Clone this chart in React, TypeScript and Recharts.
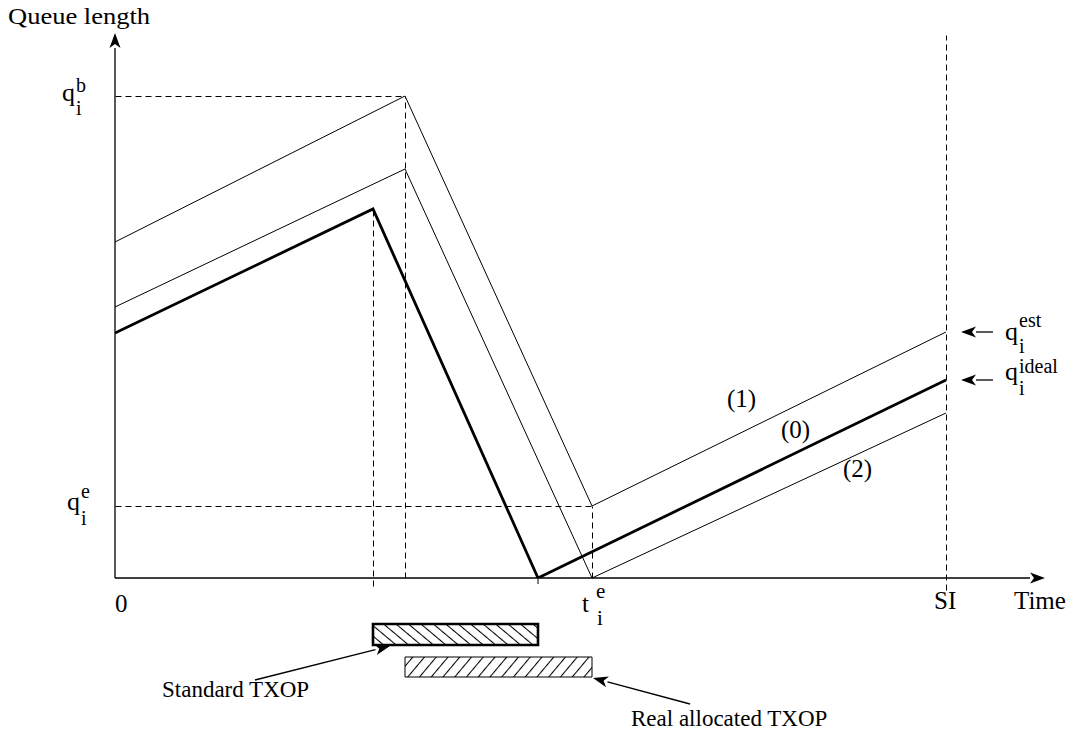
import { LineChart, Line, XAxis, YAxis, ReferenceLine, ReferenceArea } from "recharts";

// queue length curves, x = time, y = queue length (same units as the axes)
const idealTime = [0, 258, 423, 831];
const idealQueue = [245, 369, 0, 198];
const estTime = [0, 290, 477, 831];
const estQueue = [336, 482, 72, 246];
const lowTime = [0, 290, 477, 831];
const lowQueue = [271, 409, 0, 165];

const qBegin = 482;
const qEnd = 72;
const tStdEnd = 258;
const tEmpty = 423;
const tEnd = 477;
const tPeak = 290;
const SI = 831;
const xMax = 930;
const yMax = 545;

const stdTxop = [258, 423];
const realTxop = [290, 477];

const toPoints = (xs: number[], ys: number[]) => xs.map((x, i) => ({ x, y: ys[i] }));

const FONT = "Liberation Serif, Times New Roman, DejaVu Serif, serif";
const DASH = "6 4";

const Arrow = (props: any) => {
  const { x1, y1, x2, y2 } = props;
  const a = Math.atan2(y2 - y1, x2 - x1);
  const len = 15, w = 5.5;
  const bx = x2 - len * Math.cos(a), by = y2 - len * Math.sin(a);
  const p1 = `${bx + w * Math.sin(a)},${by - w * Math.cos(a)}`;
  const p2 = `${bx - w * Math.sin(a)},${by + w * Math.cos(a)}`;
  return (
    <g>
      <line x1={x1} y1={y1} x2={bx} y2={by} stroke="#000" strokeWidth={1.3} />
      <polygon points={`${x2},${y2} ${p1} ${bx + 4 * Math.cos(a)},${by + 4 * Math.sin(a)} ${p2}`} fill="#000" />
    </g>
  );
};

const Dashed = (props: any) => {
  const { x1, y1, x2, y2 } = props;
  return (
    <line x1={Math.round(x1) + 0.5} y1={Math.round(y1) + 0.5} x2={Math.round(x2) + 0.5} y2={Math.round(y2) + 0.5}
      stroke="#000" strokeWidth={1} strokeDasharray={DASH} />
  );
};

const T = ({ x, y, size = 23, children, ...rest }: any) => (
  <text x={x} y={y} fill="#000" style={{ fontFamily: FONT, fontSize: size }} {...rest}>
    {children}
  </text>
);

const QLabel = ({ x, y, sup, sub, supDy = -11, subDy = 13 }: any) => (
  <g>
    <T x={x} y={y} size={26}>q</T>
    <T x={x + 14} y={y + supDy} size={20}>{sup}</T>
    <T x={x + 14} y={y + subDy} size={20}>{sub}</T>
  </g>
);

export default function App() {
  return (
    <div style={{ position: "absolute", left: 0, top: 0, width: 1073, height: 732, background: "#fff" }}>
      <LineChart width={1073} height={732} margin={{ top: 33, left: 115, right: 28, bottom: 154 }}>
        <defs>
          <pattern id="hatchBack" width="8" height="8" patternUnits="userSpaceOnUse" patternTransform="rotate(-50)">
            <line x1="0.5" y1="0" x2="0.5" y2="8" stroke="#000" strokeWidth={1.1} />
          </pattern>
          <pattern id="hatchFwd" width="9" height="9" patternUnits="userSpaceOnUse" patternTransform="rotate(40)">
            <line x1="0.5" y1="0" x2="0.5" y2="9" stroke="#000" strokeWidth={1.1} />
          </pattern>
        </defs>
        <XAxis type="number" dataKey="x" domain={[0, xMax]} hide allowDataOverflow />
        <YAxis type="number" dataKey="y" domain={[0, yMax]} hide allowDataOverflow />

        {/* dashed guides */}
        <ReferenceLine segment={[{ x: 0, y: qBegin }, { x: tPeak, y: qBegin }]} shape={Dashed} ifOverflow="visible" />
        <ReferenceLine segment={[{ x: tPeak, y: 0 }, { x: tPeak, y: qBegin }]} shape={Dashed} ifOverflow="visible" />
        <ReferenceLine segment={[{ x: tStdEnd, y: -8 }, { x: tStdEnd, y: idealQueue[1] }]} shape={Dashed} ifOverflow="visible" />
        <ReferenceLine segment={[{ x: tEmpty, y: -6 }, { x: tEmpty, y: 0 }]} stroke="#000" ifOverflow="visible" />
        <ReferenceLine segment={[{ x: 0, y: qEnd }, { x: tEnd, y: qEnd }]} shape={Dashed} ifOverflow="visible" />
        <ReferenceLine segment={[{ x: tEnd, y: 0 }, { x: tEnd, y: qEnd }]} shape={Dashed} ifOverflow="visible" />
        <ReferenceLine segment={[{ x: SI, y: -12 }, { x: SI, y: yMax - 2 }]} shape={Dashed} ifOverflow="visible" />

        {/* axes */}
        <ReferenceLine segment={[{ x: 0, y: 0 }, { x: xMax, y: 0 }]} shape={Arrow} ifOverflow="visible" />
        <ReferenceLine segment={[{ x: 0, y: 0 }, { x: 0, y: yMax }]} shape={Arrow} ifOverflow="visible" />

        <Line data={toPoints(estTime, estQueue)} dataKey="y" stroke="#000" strokeWidth={1} dot={false} isAnimationActive={false} />
        <Line data={toPoints(lowTime, lowQueue)} dataKey="y" stroke="#000" strokeWidth={1} dot={false} isAnimationActive={false} />
        <Line data={toPoints(idealTime, idealQueue)} dataKey="y" stroke="#000" strokeWidth={2.8} dot={false} isAnimationActive={false} />

        {/* TXOP bars */}
        <ReferenceArea x1={stdTxop[0]} x2={stdTxop[1]} y1={-67} y2={-46} fill="url(#hatchBack)" fillOpacity={1} stroke="#000" strokeWidth={2.6} ifOverflow="visible" />
        <ReferenceArea x1={realTxop[0]} x2={realTxop[1]} y1={-99} y2={-79} fill="url(#hatchFwd)" fillOpacity={1} stroke="#000" strokeWidth={1} ifOverflow="visible" />

        {/* annotation arrows */}
        <ReferenceLine segment={[{ x: 140, y: -102 }, { x: 275, y: -68 }]} shape={Arrow} ifOverflow="visible" />
        <ReferenceLine segment={[{ x: 575, y: -126 }, { x: 478, y: -100 }]} shape={Arrow} ifOverflow="visible" />
        <ReferenceLine segment={[{ x: 878, y: estQueue[3] }, { x: 846, y: estQueue[3] }]} shape={Arrow} ifOverflow="visible" />
        <ReferenceLine segment={[{ x: 878, y: idealQueue[3] }, { x: 846, y: idealQueue[3] }]} shape={Arrow} ifOverflow="visible" />

        <g>
          <T x={8} y={24} textLength={142} lengthAdjust="spacingAndGlyphs">Queue length</T>
          <T x={115} y={612} size={25}>0</T>
          <T x={934} y={609} size={25}>SI</T>
          <T x={1014} y={609} size={25}>Time</T>
          <T x={582} y={612} size={25}>t</T>
          <T x={596} y={598} size={21}>e</T>
          <T x={597} y={625} size={21}>i</T>
          <T x={727} y={407} size={25}>(1)</T>
          <T x={781} y={438} size={25}>(0)</T>
          <T x={843} y={477} size={25}>(2)</T>
          <T x={162} y={697}>Standard TXOP</T>
          <T x={631} y={726}>Real allocated TXOP</T>
        </g>
        <QLabel x={62} y={101} sup="b" sub="i" supDy={-9} subDy={14} />
        <QLabel x={67} y={510} sup="e" sub="i" supDy={-12} subDy={15} />
        <QLabel x={1005} y={340} sup="est" sub="i" supDy={-13} subDy={13} />
        <QLabel x={1005} y={380} sup="ideal" sub="i" supDy={-7} subDy={15} />
      </LineChart>
    </div>
  );
}
